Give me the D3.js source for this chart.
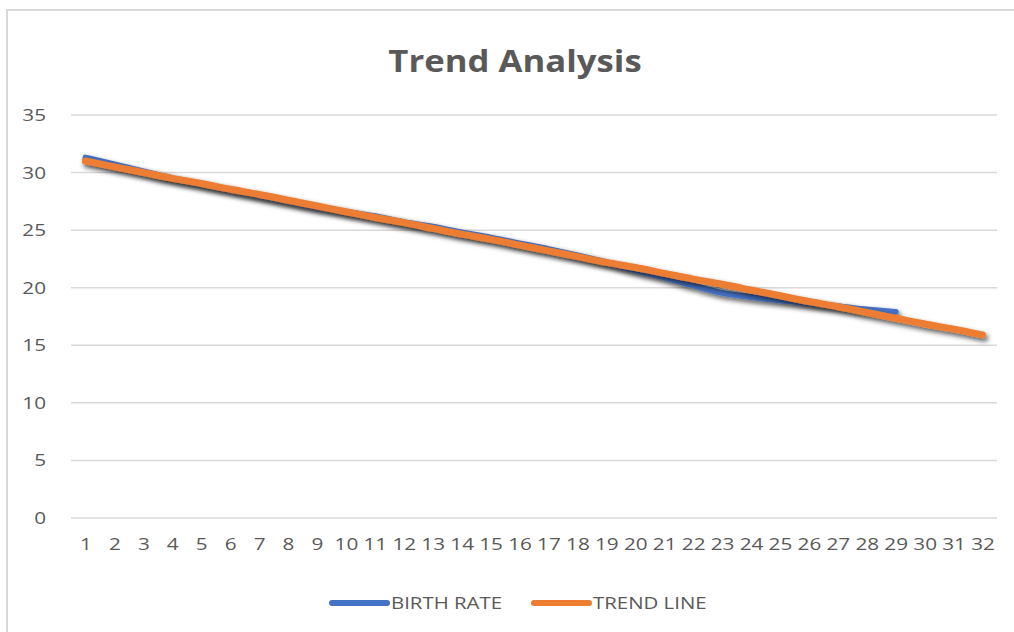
<!DOCTYPE html>
<html>
<head>
<meta charset="utf-8">
<script src="https://cdn.jsdelivr.net/npm/d3@7"></script>
<style>
  body { margin: 0; background: #fff; }
  svg { display: block; }
  svg text { font-family: "Open Sans", "Liberation Sans", sans-serif; fill: #595959; }
</style>
</head>
<body>
<script>
// categories along the bottom
var categories = [];
for (var c = 1; c <= 32; c++) categories.push(c);

// values
var birthRate = [31.3, 30.7, 30.1, 29.5, 29.0, 28.5, 28.0, 27.5, 27.0, 26.6,
                 26.2, 25.7, 25.3, 24.8, 24.35, 23.85, 23.35, 22.8, 22.2, 21.5,
                 20.9, 20.2, 19.55, 19.2, 18.9, 18.65, 18.4, 18.1, 17.9];
var trendLine = [31.0, 30.5, 30.0, 29.5, 29.05, 28.55, 28.1, 27.6, 27.1, 26.6,
                 26.1, 25.65, 25.15, 24.65, 24.2, 23.7, 23.2, 22.7, 22.2, 21.75,
                 21.25, 20.75, 20.3, 19.8, 19.3, 18.8, 18.35, 17.85, 17.35, 16.85,
                 16.4, 15.9];
var yTicks = [0, 5, 10, 15, 20, 25, 30, 35];

var width = 1014, height = 632;
var margin = {top: 115, right: 17, bottom: 114, left: 71};
var stretch = 1.22; // the source picture is a bit wider than tall

var svg = d3.select("body").append("svg")
    .attr("width", width)
    .attr("height", height);

// drop shadow like the office chart lines
var defs = svg.append("defs");
var f = defs.append("filter").attr("id", "shadow")
    .attr("x", "-5%").attr("y", "-20%").attr("width", "110%").attr("height", "160%");
f.append("feDropShadow")
    .attr("dx", 2).attr("dy", 3).attr("stdDeviation", 2.5)
    .attr("flood-color", "#000").attr("flood-opacity", 0.65);

// outer chart border (runs off right and bottom)
svg.append("rect")
    .attr("x", 7).attr("y", 10)
    .attr("width", 1020).attr("height", 640)
    .attr("fill", "#fff")
    .attr("stroke", "#d9d9d9").attr("stroke-width", 2);

var x = d3.scalePoint()
    .domain(categories)
    .range([margin.left, width - margin.right])
    .padding(0.5);

var y = d3.scaleLinear()
    .domain([0, 35])
    .range([height - margin.bottom, margin.top]);

// gridlines
svg.append("g")
    .selectAll("line")
    .data(yTicks)
  .enter().append("line")
    .attr("x1", margin.left)
    .attr("x2", width - margin.right)
    .attr("y1", function(d) { return y(d); })
    .attr("y2", function(d) { return y(d); })
    .attr("stroke", "#d9d9d9")
    .attr("stroke-width", 1.5);

// y axis labels
var yAxis = svg.append("g")
    .attr("transform", "translate(" + (margin.left - 25) + ",0)")
    .call(d3.axisLeft(y).tickValues(yTicks).tickSize(0).tickPadding(0));
yAxis.select(".domain").remove();
yAxis.attr("font-family", null).attr("font-size", null);
yAxis.selectAll("text")
    .style("font-size", "17px")
    .attr("fill", "#595959")
    .attr("transform", "scale(" + stretch + ",1)");

// x axis labels
var xAxis = svg.append("g")
    .attr("transform", "translate(0," + (height - margin.bottom + 26) + ")")
    .call(d3.axisBottom(x).tickSize(0).tickPadding(0));
xAxis.select(".domain").remove();
xAxis.attr("font-family", null).attr("font-size", null);
xAxis.selectAll("text")
    .style("font-size", "17px")
    .attr("fill", "#595959")
    .attr("dy", "0.35em")
    .attr("transform", "scale(" + stretch + ",1)");

var line = d3.line()
    .x(function(d, i) { return x(categories[i]); })
    .y(function(d) { return y(d); })
    .curve(d3.curveMonotoneX);

svg.append("path")
    .datum(birthRate)
    .attr("fill", "none")
    .attr("stroke", "#4472C4")
    .attr("stroke-width", 6)
    .attr("stroke-linecap", "round")
    .attr("stroke-linejoin", "round")
    .attr("filter", "url(#shadow)")
    .attr("d", line);

svg.append("path")
    .datum(trendLine)
    .attr("fill", "none")
    .attr("stroke", "#ED7D31")
    .attr("stroke-width", 7)
    .attr("stroke-linecap", "round")
    .attr("stroke-linejoin", "round")
    .attr("filter", "url(#shadow)")
    .attr("d", line);

// title
svg.append("text")
    .attr("transform", "translate(515,72) scale(1.12,1)")
    .attr("text-anchor", "middle")
    .style("font-size", "31px")
    .style("font-weight", "bold")
    .text("Trend Analysis");

// legend
var legend = [
    {name: "BIRTH RATE", color: "#4472C4", x: 332},
    {name: "TREND LINE", color: "#ED7D31", x: 534}
];
var lg = svg.append("g").selectAll("g").data(legend).enter().append("g")
    .attr("transform", function(d) { return "translate(" + d.x + ",603)"; });
lg.append("line")
    .attr("x1", 0).attr("x2", 55)
    .attr("stroke", function(d) { return d.color; })
    .attr("stroke-width", 6)
    .attr("stroke-linecap", "round");
lg.append("text")
    .attr("transform", "translate(59,0) scale(1.2,1)")
    .attr("dy", "0.35em")
    .style("font-size", "17px")
    .text(function(d) { return d.name; });
</script>
</body>
</html>
